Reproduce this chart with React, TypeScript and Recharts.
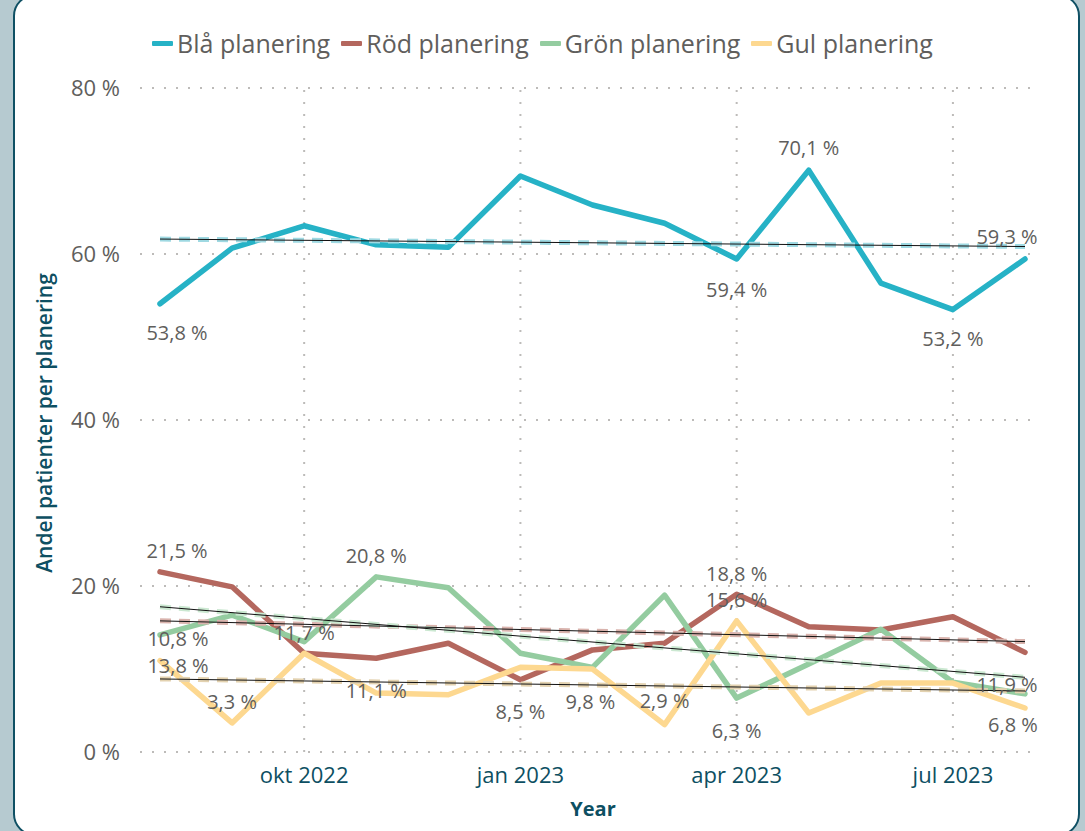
import React from 'react';
import { LineChart, Line, XAxis, YAxis, CartesianGrid, LabelList, Label, ReferenceLine } from 'recharts';

const months = [
  'aug 2022', 'sep 2022', 'okt 2022', 'nov 2022', 'dec 2022', 'jan 2023', 'feb 2023',
  'mar 2023', 'apr 2023', 'maj 2023', 'jun 2023', 'jul 2023', 'aug 2023',
];
const xTicks = [2, 5, 8, 11];
const yTicks = [0, 20, 40, 60, 80];

const bla = [54.0, 60.7, 63.4, 61.1, 60.8, 69.4, 65.9, 63.7, 59.4, 70.1, 56.5, 53.3, 59.4];
const rod = [21.7, 19.9, 11.9, 11.3, 13.1, 8.7, 12.3, 13.1, 19.0, 15.1, 14.7, 16.3, 12.0];
const gron = [14.1, 16.5, 13.3, 21.1, 19.8, 11.9, 10.2, 18.9, 6.5, 10.6, 14.8, 8.4, 7.0];
const gul = [11.0, 3.5, 11.9, 7.1, 6.9, 10.2, 10.0, 3.3, 15.8, 4.7, 8.3, 8.3, 5.3];

// trend line start / end values
const blaTrend = [61.8, 60.9];
const rodTrend = [15.8, 13.3];
const gronTrend = [17.5, 9.0];
const gulTrend = [8.8, 7.35];

// data label texts (null = no label)
const blaLabels = ['53,8 %', null, null, null, null, null, null, null, '59,4 %', '70,1 %', null, '53,2 %', '59,3 %'];
const rodLabels = ['21,5 %', null, '11,7 %', '11,1 %', null, '8,5 %', null, null, '18,8 %', null, null, null, '11,9 %'];
const gronLabels = ['10,8 %', null, null, '20,8 %', null, null, '9,8 %', null, '6,3 %', null, null, null, '6,8 %'];
const gulLabels = ['13,8 %', '3,3 %', null, null, null, null, null, '2,9 %', '15,6 %', null, null, null, null];

// label offsets from the point (px)
const labelShift: Record<string, Record<number, [number, number]>> = {
  bla: { 0: [17, 29], 8: [0, 31], 9: [0, -23], 11: [0, 29], 12: [-18, -22] },
  rod: { 0: [17, -21], 2: [0, -21], 3: [0, 32], 5: [0, 32], 8: [0, -21], 12: [-18, 32] },
  gron: { 0: [18, 4], 3: [0, -21], 6: [-2, 34], 8: [0, 32], 12: [-12, 31] },
  gul: { 0: [18, 5], 1: [0, -21], 7: [0, -24], 8: [0, -21] },
};

const series = [
  { key: 'bla', name: 'Blå planering', color: '#26B2C6', dash: '#9fd9e2', values: bla, trend: blaTrend, labels: blaLabels },
  { key: 'rod', name: 'Röd planering', color: '#B4675E', dash: '#d9b3ad', values: rod, trend: rodTrend, labels: rodLabels },
  { key: 'gron', name: 'Grön planering', color: '#94CCA0', dash: '#cbe8d1', values: gron, trend: gronTrend, labels: gronLabels },
  { key: 'gul', name: 'Gul planering', color: '#FDD890', dash: '#e3d2b0', values: gul, trend: gulTrend, labels: gulLabels },
];

const data = months.map((m, i) => {
  const row: Record<string, any> = { idx: i, month: m };
  series.forEach((s) => {
    row[s.key] = s.values[i];
    row[s.key + 'Trend'] = i === 0 ? s.trend[0] : i === months.length - 1 ? s.trend[1] : null;
  });
  return row;
});

const FONT = '"Open Sans", "Noto Sans", sans-serif';
const GRAY = '#605E5C';
const TEAL = '#0D4F62';
const GRID = '#BDBBB9';

function makeLabel(key: string, labels: (string | null)[]) {
  return (props: any) => {
    const { x, y, index } = props;
    const text = labels[index];
    if (!text) return null;
    const [dx, dy] = labelShift[key][index] || [0, 0];
    return (
      <text
        x={x + dx}
        y={y + dy}
        textAnchor="middle"
        dominantBaseline="central"
        fill={GRAY}
        fontSize={20}
        fontFamily={FONT}
      >
        {text}
      </text>
    );
  };
}

export default function App() {
  return (
    <div style={{ position: 'absolute', top: 0, left: 0, width: 1085, height: 831, background: '#B6CAD0', overflow: 'hidden' }}>
      <div
        style={{
          position: 'absolute',
          left: 13,
          top: -6,
          width: 1067,
          height: 842,
          boxSizing: 'border-box',
          border: '2.5px solid #0F5064',
          borderRadius: 22,
          background: '#fff',
        }}
      />
      <div
        style={{
          position: 'absolute',
          top: 26,
          left: 0,
          width: 1085,
          display: 'flex',
          justifyContent: 'center',
          gap: 11,
          fontFamily: FONT,
          fontSize: 25,
          color: GRAY,
          lineHeight: '34px',
        }}
      >
        {series.map((s) => (
          <div key={s.key} style={{ display: 'flex', alignItems: 'center' }}>
            <span style={{ display: 'inline-block', width: 21, height: 5, background: s.color, marginRight: 4, borderRadius: 1 }} />
            <span>{s.name}</span>
          </div>
        ))}
      </div>
      <div style={{ position: 'absolute', top: 0, left: 0 }}>
        <LineChart width={1085} height={831} data={data} margin={{ top: 88, right: 45, bottom: 49, left: 20 }}>
          <CartesianGrid vertical={false} stroke={GRID} strokeDasharray="2 10" strokeWidth={2} />
          {xTicks.map((t) => (
            <ReferenceLine key={t} x={t} stroke={GRID} strokeDasharray="2 10" strokeWidth={2} />
          ))}
          <XAxis
            dataKey="idx"
            type="number"
            domain={[0, 12]}
            ticks={xTicks}
            tickFormatter={(v) => months[v]}
            padding={{ left: 20, right: 15 }}
            axisLine={false}
            tickLine={false}
            height={30}
            tickMargin={9}
            tick={{ fill: TEAL, fontSize: 22, fontFamily: FONT }}
          >
            <Label
              content={(p: any) => (
                <text
                  x={p.viewBox.x + p.viewBox.width / 2 + 3}
                  y={p.viewBox.y + 56}
                  textAnchor="middle"
                  dominantBaseline="central"
                  fill={TEAL}
                  fontSize={20}
                  fontWeight={700}
                  fontFamily={FONT}
                >
                  Year
                </text>
              )}
            />
          </XAxis>
          <YAxis
            domain={[0, 80]}
            ticks={yTicks}
            width={120}
            axisLine={false}
            tickLine={false}
            tickMargin={14}
            tickFormatter={(v) => `${v} %`}
            tick={{ fill: GRAY, fontSize: 22, fontFamily: FONT }}
          >
            <Label
              content={(p: any) => {
                const cx = p.viewBox.x + 24;
                const cy = p.viewBox.y + p.viewBox.height / 2 + 3;
                return (
                  <text
                    x={cx}
                    y={cy}
                    transform={`rotate(-90 ${cx} ${cy})`}
                    textAnchor="middle"
                    dominantBaseline="central"
                    fill={TEAL}
                    fontSize={21}
                    fontWeight={600}
                    fontFamily={FONT}
                  >
                    Andel patienter per planering
                  </text>
                );
              }}
            />
          </YAxis>
          {series.map((s) => (
            <Line
              key={s.key}
              dataKey={s.key}
              stroke={s.color}
              strokeWidth={5.5}
              strokeLinejoin="round"
              strokeLinecap="round"
              dot={false}
              activeDot={false}
              isAnimationActive={false}
            />
          ))}
          {series.map((s) => (
            <Line
              key={s.key + 'TrendDash'}
              dataKey={s.key + 'Trend'}
              stroke={s.dash}
              strokeWidth={5}
              strokeDasharray="11 8"
              connectNulls
              dot={false}
              activeDot={false}
              isAnimationActive={false}
            />
          ))}
          {series.map((s) => (
            <Line
              key={s.key + 'TrendLine'}
              dataKey={s.key + 'Trend'}
              stroke="#111"
              strokeWidth={1}
              connectNulls
              dot={false}
              activeDot={false}
              isAnimationActive={false}
            />
          ))}
          {series.map((s) => (
            <Line
              key={s.key + 'Labels'}
              dataKey={s.key}
              stroke="none"
              dot={false}
              activeDot={false}
              legendType="none"
              isAnimationActive={false}
            >
              <LabelList dataKey={s.key} content={makeLabel(s.key, s.labels)} />
            </Line>
          ))}
        </LineChart>
      </div>
    </div>
  );
}
